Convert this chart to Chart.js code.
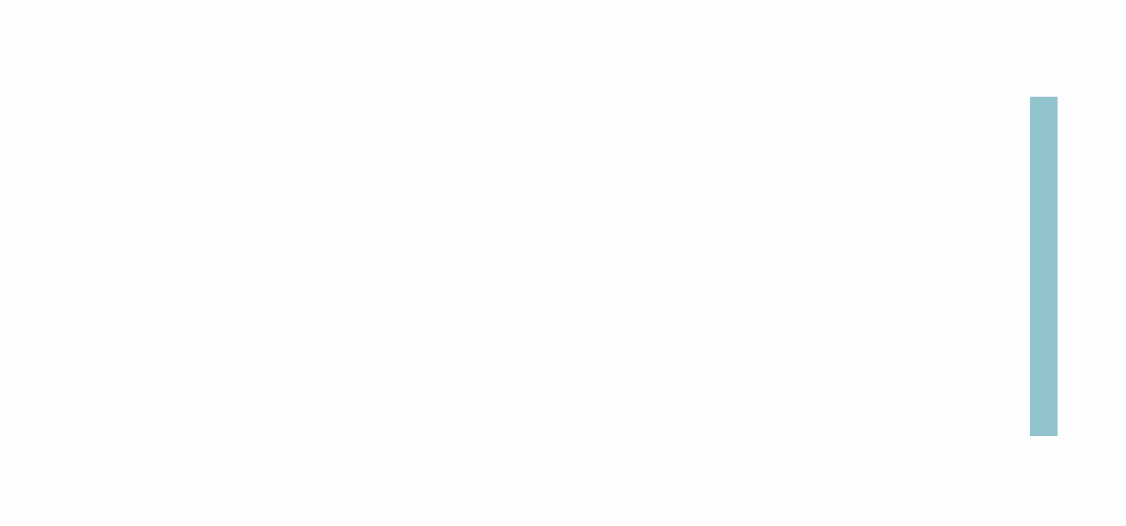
<!DOCTYPE html>
<html>
<head>
<meta charset="utf-8">
<script src="https://cdn.jsdelivr.net/npm/chart.js@4/dist/chart.umd.min.js"></script>
<style>
  html, body { margin: 0; padding: 0; background: #fefefe; }
  canvas { display: block; }
</style>
</head>
<body>
<canvas id="chart" width="1126" height="526"></canvas>
<script>
// categories along the x axis; only the last one carries a value
const categories = ['1', '2', '3', '4', '5', '6', '7', '8', '9', '10', '11', '12', '13',
                    '14', '15', '16', '17', '18', '19', '20', '21', '22', '23', '24', '25', '26'];
const values = [0, 0, 0, 0, 0, 0, 0, 0, 0, 0, 0, 0, 0,
                0, 0, 0, 0, 0, 0, 0, 0, 0, 0, 0, 0, 100];
const yTicks = [0, 100];

const ctx = document.getElementById('chart').getContext('2d');
new Chart(ctx, {
    type: 'bar',
    data: {
        labels: categories,
        datasets: [{
            data: values,
            backgroundColor: '#92c4cd',
            borderWidth: 0,
            barPercentage: 0.8,
            categoryPercentage: 0.9
        }]
    },
    options: {
        responsive: false,
        animation: false,
        devicePixelRatio: 1,
        layout: {
            padding: { left: 64, right: 63, top: 96.5, bottom: 90 }
        },
        plugins: {
            legend: { display: false },
            tooltip: { enabled: false }
        },
        scales: {
            x: { display: false },
            y: {
                display: false,
                min: yTicks[0],
                max: yTicks[yTicks.length - 1]
            }
        }
    }
});
</script>
</body>
</html>
